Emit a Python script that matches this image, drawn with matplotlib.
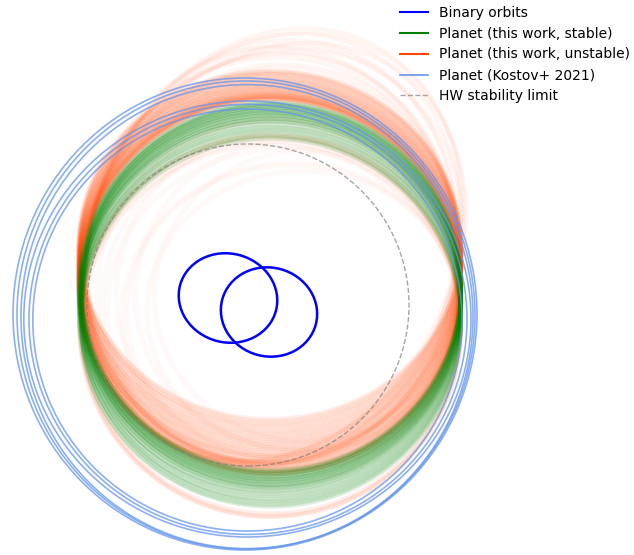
import matplotlib
matplotlib.use('Agg')
import matplotlib.pyplot as plt
from matplotlib.patches import Ellipse, Circle
from matplotlib.lines import Line2D

# 轨道参数 (中心 x, 中心 y, 半轴 a, 半轴 b, 倾角 deg), 单位任意
binary_cx = [-0.105, 0.100]
binary_cy = [0.035, -0.035]
binary_a = [0.248, 0.242]
binary_b = [0.222, 0.222]
binary_tilt = [-15, -15]

stable_cx = [0.110, 0.105, 0.112, 0.108, 0.110, 0.104, 0.113, 0.109, 0.106, 0.111,
             0.107, 0.112, 0.105, 0.110, 0.108, 0.113, 0.106, 0.109, 0.111, 0.104,
             0.110, 0.107, 0.112, 0.106, 0.109, 0.111, 0.105, 0.110]
stable_cy = [0.094, 0.088, 0.085, 0.079, 0.076, 0.070, 0.066, 0.061, 0.055, 0.052,
             0.046, 0.041, 0.037, 0.030, 0.026, 0.020, 0.013, 0.009, 0.002, -0.006,
             -0.015, -0.027, -0.036, -0.048, -0.057, -0.069, -0.078, -0.088]
stable_a = [0.950, 0.955, 0.947, 0.952, 0.950, 0.957, 0.946, 0.951, 0.954, 0.948,
            0.953, 0.947, 0.955, 0.950, 0.952, 0.946, 0.954, 0.951, 0.949, 0.956,
            0.950, 0.953, 0.948, 0.954, 0.951, 0.949, 0.955, 0.950]
stable_b = [0.920, 0.918, 0.922, 0.919, 0.921, 0.917, 0.923, 0.920, 0.918, 0.922,
            0.919, 0.921, 0.920, 0.918, 0.922, 0.920, 0.919, 0.921, 0.918, 0.922,
            0.920, 0.919, 0.921, 0.920, 0.922, 0.918, 0.921, 0.920]

# 不稳定解: 密集部分
unstable_cx = [0.104, 0.107, 0.103, 0.106, 0.105, 0.108, 0.104, 0.106, 0.103, 0.107,
               0.105, 0.104, 0.108, 0.106, 0.103, 0.105, 0.107, 0.104, 0.106, 0.105,
               0.103, 0.107, 0.105, 0.104, 0.106, 0.108, 0.103, 0.105, 0.106, 0.104,
               0.107, 0.105, 0.104, 0.106, 0.105, 0.103]
unstable_cy = [0.300, 0.292, 0.283, 0.276, 0.268, 0.259, 0.251, 0.243, 0.236, 0.228,
               0.221, 0.214, 0.207, 0.200, 0.194, 0.187, 0.180, 0.174, 0.168, 0.161,
               0.155, 0.149, 0.142, 0.136, 0.130, 0.124, 0.118, 0.112, 0.106, 0.100,
               0.095, 0.090, 0.150, 0.128, 0.110, 0.098]
unstable_a = [0.956, 0.953, 0.957, 0.954, 0.955, 0.952, 0.956, 0.954, 0.957, 0.953,
              0.955, 0.956, 0.952, 0.954, 0.957, 0.955, 0.953, 0.956, 0.954, 0.955,
              0.957, 0.953, 0.955, 0.956, 0.954, 0.952, 0.957, 0.955, 0.954, 0.956,
              0.953, 0.955, 0.956, 0.954, 0.955, 0.957]
unstable_b = [0.870, 0.872, 0.874, 0.876, 0.877, 0.879, 0.881, 0.883, 0.885, 0.887,
              0.889, 0.891, 0.893, 0.895, 0.897, 0.899, 0.901, 0.903, 0.905, 0.907,
              0.909, 0.912, 0.914, 0.916, 0.918, 0.920, 0.923, 0.925, 0.928, 0.931,
              0.934, 0.938, 0.905, 0.919, 0.929, 0.935]

# 不稳定解: 外围稀疏部分
halo_cx = [0.12, 0.12, 0.11, 0.12, 0.11, 0.11, 0.13, 0.12, 0.11, 0.12,
           0.125, 0.115, 0.118, 0.122,
           0.110, 0.105, 0.112, 0.108, 0.110, 0.106]
halo_cy = [0.30, 0.28, 0.26, 0.25, 0.23, 0.22, 0.27, 0.21, 0.24, 0.19,
           0.29, 0.25, 0.23, 0.20,
           -0.100, -0.110, -0.120, -0.095, -0.130, -0.105]
halo_a = [1.12, 1.10, 1.08, 1.06, 1.04, 1.02, 1.09, 1.00, 1.05, 0.98,
          1.11, 1.07, 1.03, 0.99,
          0.950, 0.955, 0.948, 0.952, 0.950, 0.954]
halo_b = [0.90, 0.91, 0.91, 0.92, 0.92, 0.93, 0.90, 0.93, 0.92, 0.935,
          0.905, 0.915, 0.925, 0.93,
          0.940, 0.945, 0.935, 0.950, 0.930, 0.955]
halo_tilt = [65, 68, 72, 62, 75, 80, 58, 70, 85, 66,
             63, 70, 78, 74,
             0, 0, 0, 0, 0, 0]

# 不稳定解: 内侧稀疏部分
inner_cx = [0.130, 0.148, 0.170, 0.195, 0.220, 0.243, 0.270, 0.291, 0.160, 0.210]
inner_cy = [0.040, 0.064, -0.020, 0.058, -0.040, 0.052, -0.030, 0.046, 0.000, -0.060]
inner_a = [0.925, 0.907, 0.880, 0.860, 0.830, 0.812, 0.780, 0.764, 0.895, 0.845]
inner_b = [0.880, 0.865, 0.800, 0.820, 0.750, 0.774, 0.700, 0.728, 0.840, 0.760]

kostov_cx = [-0.020, -0.015, -0.010, -0.008, -0.005, -0.008]
kostov_cy = [-0.045, -0.050, -0.058, -0.070, -0.072, -0.075]
kostov_a = [1.160, 1.145, 1.130, 1.118, 1.095, 1.073]
kostov_b = [1.180, 1.170, 1.160, 1.090, 1.075, 1.055]

hw_center = (-0.005, 0.0)
hw_radius = 0.805


def draw_orbits(ax, cx, cy, a, b, tilt=None, **kw):
    if tilt is None:
        tilt = [0] * len(cx)
    for x0, y0, aa, bb, t in zip(cx, cy, a, b, tilt):
        ax.add_patch(Ellipse((x0, y0), 2 * aa, 2 * bb, angle=t, fill=False, **kw))


fig = plt.figure(figsize=(6.34, 5.55), dpi=100)
ax = fig.add_axes([0, 0, 1, 1])

draw_orbits(ax, inner_cx, inner_cy, inner_a, inner_b,
            color='orangered', alpha=0.025, lw=4)
draw_orbits(ax, halo_cx, halo_cy, halo_a, halo_b, halo_tilt,
            color='orangered', alpha=0.045, lw=3)
draw_orbits(ax, unstable_cx, unstable_cy, unstable_a, unstable_b,
            color='orangered', alpha=0.085, lw=3)
draw_orbits(ax, stable_cx, stable_cy, stable_a, stable_b,
            color='green', alpha=0.13, lw=3)
draw_orbits(ax, kostov_cx, kostov_cy, kostov_a, kostov_b,
            color='cornflowerblue', alpha=0.75, lw=1.2)
ax.add_patch(Circle(hw_center, hw_radius, fill=False, color='gray',
                    ls='--', lw=1, alpha=0.7))
draw_orbits(ax, binary_cx, binary_cy, binary_a, binary_b, binary_tilt,
            color='blue', lw=1.8)

ax.set_xlim(-1.245, 1.925)
ax.set_ylim(-1.25, 1.525)
ax.set_aspect('equal')
ax.axis('off')

handles = [Line2D([], [], color='blue', lw=1.5),
           Line2D([], [], color='green', lw=1.5),
           Line2D([], [], color='orangered', lw=1.5),
           Line2D([], [], color='cornflowerblue', lw=1.2),
           Line2D([], [], color='gray', ls='--', lw=1, alpha=0.7)]
labels = ['Binary orbits', 'Planet (this work, stable)',
          'Planet (this work, unstable)', 'Planet (Kostov+ 2021)',
          'HW stability limit']
fig.legend(handles, labels, loc='upper right', bbox_to_anchor=(1.003, 1.0),
           frameon=False, fontsize=10, borderaxespad=0)

fig.savefig('out.png', dpi=100)
